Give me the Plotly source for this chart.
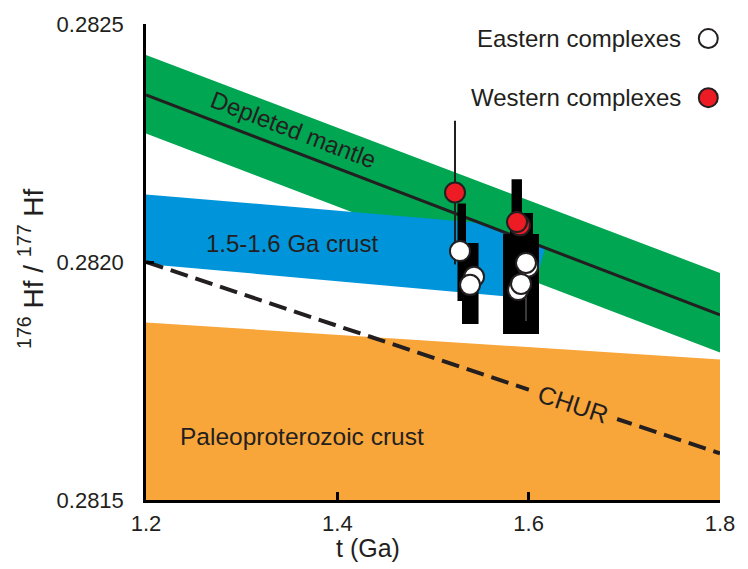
import plotly.graph_objects as go

# ---- evolution bands and reference lines (t in Ga, 176Hf/177Hf) ----
band_t = [1.2, 1.8]
dm_upper = [0.282435, 0.281977]
dm_lower = [0.282270, 0.281810]
dm_line = [0.282351, 0.281889]
chur_line = [0.282000, 0.281598]
paleo_top = [0.281873, 0.281795]
axis_floor = 0.2815

# 1.5-1.6 Ga crust field outline
crust_t = [1.2, 1.5502, 1.6171, 1.6024, 1.2]
crust_hf = [0.282142, 0.282082, 0.282029, 0.281923, 0.281996]

# ---- stacked uncertainty blocks for the zircon populations ----
blk_t0 = [1.5256, 1.5340, 1.5303, 1.5821, 1.5805, 1.5732]
blk_t1 = [1.5345, 1.5476, 1.5387, 1.5930, 1.6045, 1.6108]
blk_lo = [0.281918, 0.281870, 0.281870, 0.282052, 0.282044, 0.281849]
blk_hi = [0.282123, 0.282040, 0.281939, 0.282174, 0.282103, 0.282059]

# ---- sample means ----
east_t = [1.5282, 1.5429, 1.5387, 1.5993, 1.5972, 1.5889, 1.5920]
east_hf = [0.282023, 0.281969, 0.281952, 0.281990, 0.281998, 0.281941, 0.281954]
east_err_minus = [0, 0, 0, 0, 0.000122, 0, 0]

west_t = [1.5230, 1.5909, 1.5878]
west_hf = [0.282146, 0.282077, 0.282084]
west_err = [0.000151, 0, 0]

x_ticks = [1.2, 1.4, 1.6, 1.8]
x_ticktext = ["1.2", "1.4", "1.6", "1.8"]
y_ticks = [0.2815, 0.2820, 0.2825]
y_ticktext = ["0.2815", "0.2820", "0.2825"]

GREEN = "#00a651"
BLUE = "#0095da"
ORANGE = "#f8a53a"
RED = "#ed1c24"
INK = "#231f20"
FONT = "Liberation Sans, Arial, Helvetica, sans-serif"

fig = go.Figure()

# Paleoproterozoic crust field
fig.add_trace(go.Scatter(
    x=band_t + band_t[::-1], y=paleo_top + [axis_floor, axis_floor],
    fill="toself", fillcolor=ORANGE, line=dict(width=0), mode="lines",
    hoverinfo="skip", showlegend=False))

# Depleted mantle envelope
fig.add_trace(go.Scatter(
    x=band_t + band_t[::-1], y=dm_upper + dm_lower[::-1],
    fill="toself", fillcolor=GREEN, line=dict(width=0), mode="lines",
    hoverinfo="skip", showlegend=False))

# 1.5-1.6 Ga crust field
fig.add_trace(go.Scatter(
    x=crust_t, y=crust_hf, fill="toself", fillcolor=BLUE,
    line=dict(width=0), mode="lines", hoverinfo="skip", showlegend=False))

# Depleted mantle evolution line
fig.add_trace(go.Scatter(
    x=band_t, y=dm_line, mode="lines", line=dict(color=INK, width=3),
    hoverinfo="skip", showlegend=False))

# CHUR
fig.add_trace(go.Scatter(
    x=band_t, y=chur_line, mode="lines",
    line=dict(color=INK, width=4, dash="18px,8px"),
    hoverinfo="skip", showlegend=False))

# uncertainty blocks
bx, by = [], []
for t0, t1, lo, hi in zip(blk_t0, blk_t1, blk_lo, blk_hi):
    bx += [t0, t1, t1, t0, t0, None]
    by += [lo, lo, hi, hi, lo, None]
fig.add_trace(go.Scatter(
    x=bx, y=by, fill="toself", fillcolor="#000000", mode="lines",
    line=dict(width=0), hoverinfo="skip", showlegend=False))

# Western complexes
fig.add_trace(go.Scatter(
    x=west_t, y=west_hf, mode="markers",
    marker=dict(size=20, color=RED, line=dict(color=INK, width=2)),
    error_y=dict(type="data", array=west_err, visible=True,
                 color=INK, thickness=2, width=0),
    name="Western complexes", showlegend=False))

# Eastern complexes
fig.add_trace(go.Scatter(
    x=east_t, y=east_hf, mode="markers",
    marker=dict(size=20, color="white", line=dict(color=INK, width=2)),
    error_y=dict(type="data", symmetric=False, array=[0] * len(east_t),
                 arrayminus=east_err_minus, visible=True,
                 color="#3a3a3a", thickness=2, width=0),
    name="Eastern complexes", showlegend=False))

annotations = [
    dict(x=1.3537, y=0.282278, text="Depleted mantle", textangle=21,
         showarrow=False, font=dict(size=24, color=INK)),
    dict(x=1.3521, y=0.282038, text="1.5-1.6 Ga crust",
         showarrow=False, font=dict(size=24, color=INK)),
    dict(x=1.3631, y=0.281634, text="Paleoproterozoic crust",
         showarrow=False, font=dict(size=24.5, color=INK)),
    dict(x=1.6463, y=0.281701, text="CHUR", textangle=18.4,
         showarrow=False, bgcolor=ORANGE, borderpad=10,
         font=dict(size=25, color=INK)),
    # legend entries
    dict(x=0.9355, y=0.9693, xref="paper", yref="paper", xanchor="right",
         yanchor="middle", text="Eastern complexes", showarrow=False,
         font=dict(size=24, color=INK)),
    dict(x=0.9355, y=0.8452, xref="paper", yref="paper", xanchor="right",
         yanchor="middle", text="Western complexes", showarrow=False,
         font=dict(size=24, color=INK)),
    # axis titles
    dict(x=0.3868, y=-0.1004, xref="paper", yref="paper",
         xanchor="center", yanchor="middle",
         text="t (Ga)", showarrow=False, font=dict(size=25, color=INK)),
    dict(x=-0.2003, y=0.4854, xref="paper", yref="paper", textangle=-90,
         xanchor="center", yanchor="middle",
         text="<sup>176</sup> Hf / <sup>177</sup> Hf",
         showarrow=False, font=dict(size=28, color=INK)),
]

shapes = [
    dict(type="circle", xref="paper", yref="paper", xsizemode="pixel",
         ysizemode="pixel", xanchor=0.9796, yanchor=0.9693,
         x0=-9.5, x1=9.5, y0=-9.5, y1=9.5,
         fillcolor="white", line=dict(color=INK, width=2)),
    dict(type="circle", xref="paper", yref="paper", xsizemode="pixel",
         ysizemode="pixel", xanchor=0.9796, yanchor=0.8452,
         x0=-9.5, x1=9.5, y0=-9.5, y1=9.5,
         fillcolor=RED, line=dict(color=INK, width=2)),
]

fig.update_layout(
    width=748, height=569,
    margin=dict(l=146, r=28, t=22, b=69),
    paper_bgcolor="white", plot_bgcolor="white",
    font=dict(family=FONT, color=INK),
    showlegend=False,
    annotations=annotations,
    shapes=shapes,
)
fig.update_xaxes(
    range=[1.2, 1.8], tickvals=x_ticks, ticktext=x_ticktext,
    showgrid=False, zeroline=False, showline=True, linecolor="black",
    linewidth=2.5, ticks="inside", ticklen=8, tickwidth=2.5,
    tickcolor="black", ticklabelstandoff=2,
    tickfont=dict(family=FONT, size=22, color=INK))
fig.update_yaxes(
    range=[0.2815, 0.2825], tickvals=y_ticks, ticktext=y_ticktext,
    showgrid=False, zeroline=False, showline=True, linecolor="black",
    linewidth=2.5, ticks="inside", ticklen=8, tickwidth=2.5,
    tickcolor="black", ticklabelstandoff=15,
    tickfont=dict(family=FONT, size=22, color=INK))

fig.write_html("out.html")
